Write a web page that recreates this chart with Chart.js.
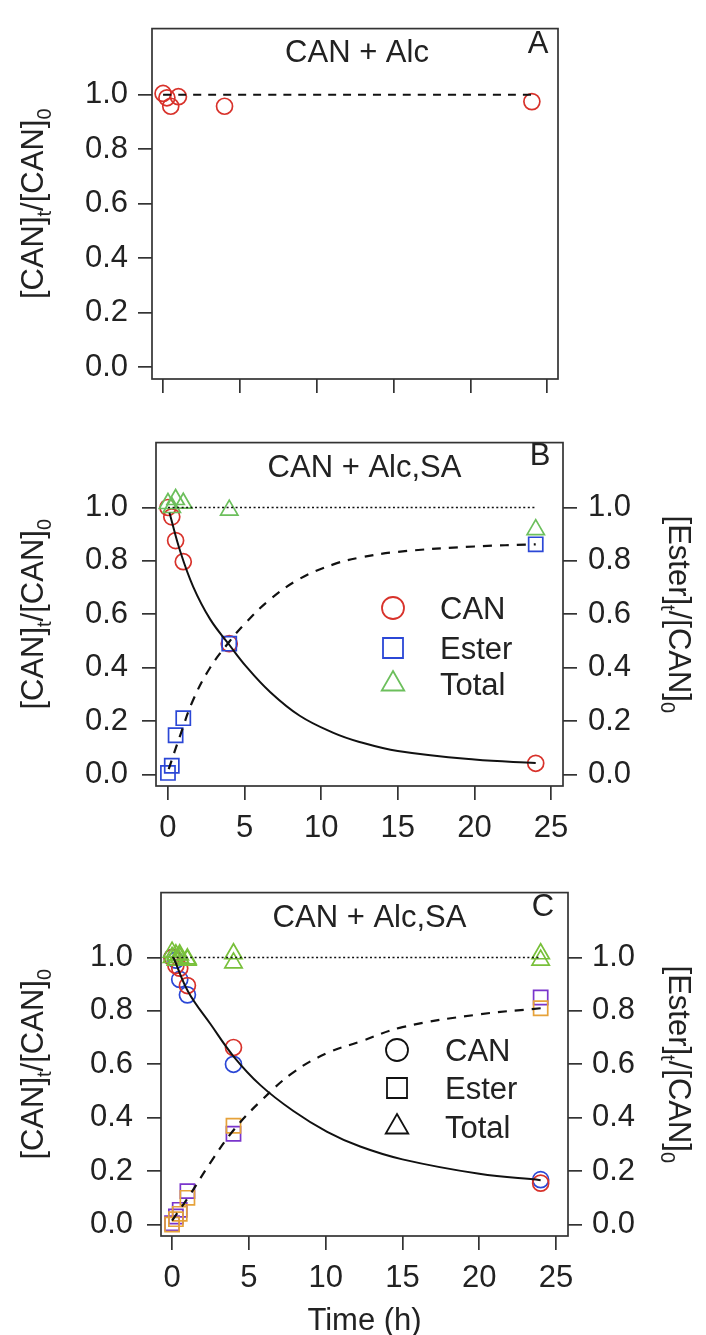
<!DOCTYPE html>
<html>
<head>
<meta charset="utf-8">
<script src="https://cdn.jsdelivr.net/npm/chart.js@4.4.1/dist/chart.umd.min.js"></script>
<style>
  html, body { margin: 0; padding: 0; background: #fff; }
  #wrap { position: relative; width: 706px; height: 1335px; overflow: hidden; }
  canvas { position: absolute; left: 0; }
</style>
</head>
<body>
<div id="wrap">
  <canvas id="panelA" width="706" height="410" style="top:0px"></canvas>
  <canvas id="panelB" width="706" height="450" style="top:410px"></canvas>
  <canvas id="panelC" width="706" height="475" style="top:860px"></canvas>
</div>
<script>
// ---- axis ticks ----
const xTicks = [0, 5, 10, 15, 20, 25];
const yTicks = [0, 0.2, 0.4, 0.6, 0.8, 1.0];

// ---- panel A: CAN + Alc ----
const timeA = [0, 0.25, 0.5, 1, 4, 24];
const canA = [1.005, 0.989, 0.958, 0.993, 0.958, 0.975];
const refTime = [0, 24];
const refLevel = [1, 1];

// ---- panel B: CAN + Alc,SA ----
const timeB = [0, 0.25, 0.5, 1, 4, 24];
const canB = [1.0, 0.965, 0.876, 0.797, 0.49, 0.042];
const esterB = [0.006, 0.033, 0.147, 0.211, 0.49, 0.862];
const totalB = [1.015, 1.0, 1.03, 1.016, 0.99, 0.917];
const canFitTimeB = [0.1, 0.8, 1.65, 2.75, 4, 5.1, 6.65, 8.6, 10.8, 12.5, 15, 20, 24];
const canFitB = [0.98, 0.836, 0.703, 0.582, 0.486, 0.405, 0.31, 0.22, 0.156, 0.122, 0.088, 0.056, 0.043];
const esterFitTimeB = [0.05, 0.8, 1.65, 2.75, 4, 5.1, 6.65, 8.6, 10.8, 12.5, 15, 20, 24];
const esterFitB = [0.02, 0.147, 0.28, 0.40, 0.497, 0.57, 0.655, 0.733, 0.787, 0.812, 0.834, 0.854, 0.862];

// ---- panel C: CAN + Alc,SA, two runs ----
const timeC = [0, 0.25, 0.5, 1, 4, 24];
const canC1 = [1.0, 0.97, 0.96, 0.895, 0.663, 0.155];
const canC2 = [1.0, 0.99, 0.918, 0.86, 0.60, 0.168];
const esterC1 = [0.0, 0.02, 0.04, 0.10, 0.37, 0.81];
const esterC2 = [0.005, 0.03, 0.055, 0.125, 0.34, 0.85];
const totalC1 = [1.0, 0.99, 1.0, 0.995, 1.014, 0.99];
const totalC2 = [1.02, 1.01, 1.01, 0.99, 0.98, 1.014];
const canFitTimeC = [0.1, 1.05, 2.5, 4, 5.75, 7.9, 10.1, 12.25, 15, 20, 24];
const canFitC = [0.999, 0.872, 0.751, 0.63, 0.522, 0.425, 0.347, 0.292, 0.244, 0.19, 0.166];
const esterFitTimeC = [0, 1.15, 2.5, 4, 5.75, 7.9, 10.1, 12.25, 15, 20, 24];
const esterFitC = [0.015, 0.11, 0.232, 0.353, 0.461, 0.57, 0.642, 0.685, 0.739, 0.787, 0.81];

// ---- styling ----
const FONT = "'Liberation Sans', Arial, Helvetica, sans-serif";
const INK = '#222';
const RED = '#d8322b', BLUE = '#2b47d6', GREEN_B = '#6cbf5c', GREEN_C = '#78c03a';
const ORANGE = '#e6a23a', PURPLE = '#7a35cc';
const font = px => px + 'px ' + FONT;

function pts(xs, ys) { return xs.map((x, i) => ({ x: x, y: ys[i] })); }

function markers(label, xs, ys, style, color, r) {
  return {
    label, data: pts(xs, ys), showLine: false,
    pointStyle: style, pointRadius: r, pointHoverRadius: r,
    pointBorderColor: color, pointBackgroundColor: 'rgba(0,0,0,0)',
    pointBorderWidth: 1.7, borderColor: color
  };
}

function curve(label, xs, ys, dash, width) {
  return {
    label, data: pts(xs, ys), showLine: true, pointRadius: 0,
    borderColor: '#111', borderWidth: width, borderDash: dash,
    tension: 0.4, fill: false
  };
}

function xScale(min, max, height, showLabels) {
  return {
    type: 'linear', position: 'bottom', min, max,
    afterBuildTicks: s => { s.ticks = xTicks.map(v => ({ value: v })); },
    afterFit: s => { s.height = height; },
    grid: { drawOnChartArea: false, drawTicks: true, tickLength: 14, lineWidth: 1.7, color: '#333' },
    border: { display: false },
    ticks: { display: showLabels, padding: 10, color: INK, font: { family: FONT, size: 31 },
             maxRotation: 0, autoSkip: false, callback: v => String(v) }
  };
}

function yScale(pos, width, pad) {
  return {
    type: 'linear', position: pos, min: -0.043, max: 1.243,
    afterBuildTicks: s => { s.ticks = yTicks.map(v => ({ value: v })); },
    afterFit: s => { s.width = width; },
    grid: { drawOnChartArea: false, drawTicks: true, tickLength: 14, lineWidth: 1.7, color: '#333' },
    border: { display: false },
    ticks: { padding: pad, color: INK, font: { family: FONT, size: 31 },
             autoSkip: false, callback: v => v.toFixed(1) }
  };
}

// text with subscripts, centred on (cx, cy), rotated by angle
function richText(ctx, parts, cx, cy, angle, size) {
  const sub = Math.round(size * 0.66);
  ctx.save();
  ctx.translate(cx, cy);
  ctx.rotate(angle);
  ctx.fillStyle = INK;
  ctx.textAlign = 'left';
  ctx.textBaseline = 'alphabetic';
  let total = 0;
  parts.forEach(p => { ctx.font = font(p[1] ? sub : size); total += ctx.measureText(p[0]).width; });
  let x = -total / 2;
  const base = size * 0.716 / 2;
  parts.forEach(p => {
    ctx.font = font(p[1] ? sub : size);
    ctx.fillText(p[0], x, base + (p[1] ? size * 0.24 : 0));
    x += ctx.measureText(p[0]).width;
  });
  ctx.restore();
}

function legendMark(ctx, style, x, y, color) {
  ctx.save();
  ctx.strokeStyle = color;
  ctx.lineWidth = 1.8;
  ctx.beginPath();
  if (style === 'circle') {
    ctx.arc(x, y, 11, 0, Math.PI * 2);
  } else if (style === 'rect') {
    ctx.rect(x - 10, y - 10, 20, 20);
  } else {
    const r = 13;
    ctx.moveTo(x, y - r);
    ctx.lineTo(x + r * 0.866, y + r * 0.5);
    ctx.lineTo(x - r * 0.866, y + r * 0.5);
    ctx.closePath();
  }
  ctx.stroke();
  ctx.restore();
}

const CAN_LABEL = [['[CAN]', 0], ['t', 1], ['/[CAN]', 0], ['0', 1]];
const ESTER_LABEL = [['[Ester]', 0], ['t', 1], ['/[CAN]', 0], ['0', 1]];

// frame, panel title, panel letter, axis titles and in-plot legend
const panelText = {
  id: 'panelText',
  afterDraw(chart, args, o) {
    const ctx = chart.ctx;
    const a = chart.chartArea;
    ctx.save();
    ctx.strokeStyle = '#333';
    ctx.lineWidth = 1.7;
    ctx.strokeRect(a.left, a.top, a.right - a.left, a.bottom - a.top);

    ctx.fillStyle = INK;
    ctx.font = font(31);
    ctx.textAlign = 'center';
    ctx.textBaseline = 'alphabetic';
    ctx.fillText(o.title, o.titleX, o.titleY + 11);
    ctx.fillText(o.letter, o.letterX, o.letterY + 11);

    const midY = (a.top + a.bottom) / 2;
    richText(ctx, CAN_LABEL, 32, midY, -Math.PI / 2, 31);
    if (o.right) richText(ctx, ESTER_LABEL, 680, midY, Math.PI / 2, 31);

    if (o.legend) {
      o.legend.forEach(item => {
        legendMark(ctx, item.style, o.legendX, item.y, item.color);
        ctx.fillStyle = INK;
        ctx.font = font(31);
        ctx.textAlign = 'left';
        ctx.fillText(item.text, o.legendTextX, item.y + 11);
      });
    }
    if (o.xTitle) {
      ctx.fillStyle = INK;
      ctx.font = font(31);
      ctx.textAlign = 'center';
      ctx.fillText(o.xTitle, (a.left + a.right) / 2, o.xTitleY + 11);
    }
    ctx.restore();
  }
};

function baseOptions(padding, scales, text) {
  return {
    responsive: false, animation: false, devicePixelRatio: 1, events: [],
    layout: { padding, autoPadding: false },
    scales,
    plugins: { legend: { display: false }, tooltip: { enabled: false }, panelText: text }
  };
}

// ---- panel A ----
new Chart(document.getElementById('panelA'), {
  type: 'scatter',
  data: {
    datasets: [
      curve('reference', refTime, refLevel, [8, 7], 2),
      markers('CAN', timeA, canA, 'circle', RED, 8)
    ]
  },
  options: baseOptions(
    { top: 14, right: 148, left: 0, bottom: 0 },
    { x: xScale(-0.72, 25.7, 31, false), y: yScale('left', 152, 10) },
    { title: 'CAN + Alc', titleX: 357, titleY: 51, letter: 'A', letterX: 538, letterY: 42 }
  ),
  plugins: [panelText]
});

// ---- panel B ----
new Chart(document.getElementById('panelB'), {
  type: 'scatter',
  data: {
    datasets: [
      curve('CAN fit', canFitTimeB, canFitB, [], 2),
      curve('Ester fit', esterFitTimeB, esterFitB, [9, 8], 2.2),
      curve('total', refTime, refLevel, [2, 2.5], 1.6),
      markers('Total', timeB, totalB, 'triangle', GREEN_B, 10),
      markers('Ester', timeB, esterB, 'rect', BLUE, 10),
      markers('CAN', timeB, canB, 'circle', RED, 8)
    ]
  },
  options: baseOptions(
    { top: 21, right: 0, left: 0, bottom: 0 },
    { x: xScale(-0.78, 25.78, 74, true), y: yScale('left', 156, 14), y2: yScale('right', 143, 11) },
    { title: 'CAN + Alc,SA', titleX: 364.5, titleY: 56, letter: 'B', letterX: 540, letterY: 44, right: true,
      legendX: 393, legendTextX: 440,
      legend: [
        { style: 'circle', color: RED, text: 'CAN', y: 198 },
        { style: 'rect', color: BLUE, text: 'Ester', y: 238 },
        { style: 'triangle', color: GREEN_B, text: 'Total', y: 274 }
      ] }
  ),
  plugins: [panelText]
});

// ---- panel C ----
new Chart(document.getElementById('panelC'), {
  type: 'scatter',
  data: {
    datasets: [
      curve('CAN fit', canFitTimeC, canFitC, [], 2),
      curve('Ester fit', esterFitTimeC, esterFitC, [9, 8], 2.2),
      curve('total', refTime, refLevel, [2, 2.5], 1.6),
      markers('Total run 1', timeC, totalC1, 'triangle', GREEN_C, 10),
      markers('Total run 2', timeC, totalC2, 'triangle', GREEN_C, 10),
      markers('Ester run 1', timeC, esterC1, 'rect', ORANGE, 10),
      markers('Ester run 2', timeC, esterC2, 'rect', PURPLE, 10),
      markers('CAN run 1', timeC, canC1, 'circle', RED, 8),
      markers('CAN run 2', timeC, canC2, 'circle', BLUE, 8)
    ]
  },
  options: baseOptions(
    { top: 21, right: 0, left: 0, bottom: 0 },
    { x: xScale(-0.72, 25.78, 99, true), y: yScale('left', 161, 14), y2: yScale('right', 138, 10) },
    { title: 'CAN + Alc,SA', titleX: 369.5, titleY: 56, letter: 'C', letterX: 543, letterY: 45, right: true,
      legendX: 397, legendTextX: 445,
      legend: [
        { style: 'circle', color: '#111', text: 'CAN', y: 190 },
        { style: 'rect', color: '#111', text: 'Ester', y: 228 },
        { style: 'triangle', color: '#111', text: 'Total', y: 267 }
      ],
      xTitle: 'Time (h)', xTitleY: 459 }
  ),
  plugins: [panelText]
});
</script>
</body>
</html>
